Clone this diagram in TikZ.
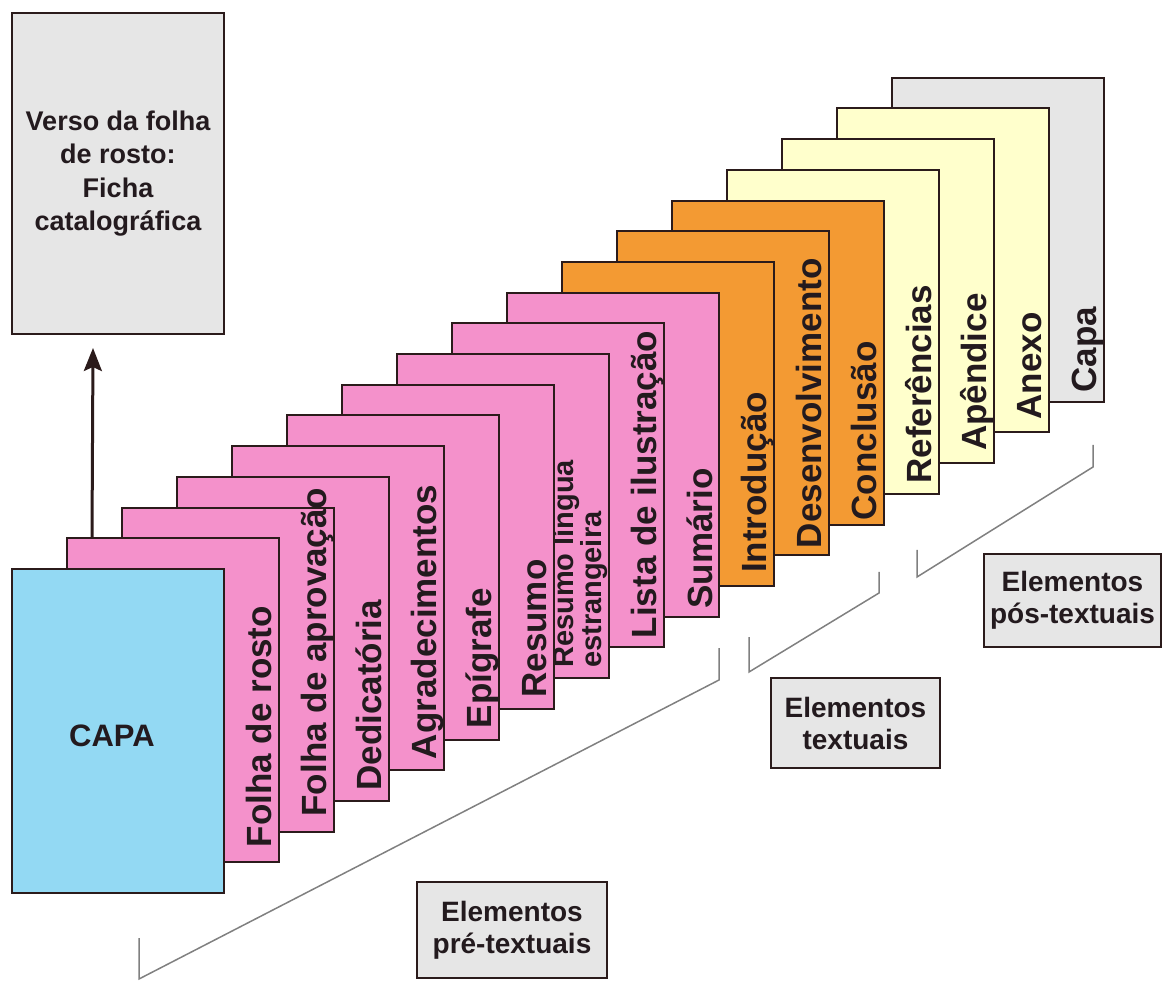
\documentclass[tikz,border=0pt]{standalone}
\usepackage{fontspec}
\setmainfont{Liberation Sans}
\usetikzlibrary{arrows.meta}

\definecolor{azul}{HTML}{93D9F3}
\definecolor{rosa}{HTML}{F491CB}
\definecolor{laranja}{HTML}{F39A33}
\definecolor{creme}{HTML}{FFFFCC}
\definecolor{cinza}{HTML}{E6E6E6}
\definecolor{borda}{HTML}{2B1B1B}
\definecolor{texto}{HTML}{231A1E}

\begin{document}
\begin{tikzpicture}[x=1pt, y=-1pt,
	page/.style = {draw=borda, line width=2pt, minimum width=212pt, minimum height=324pt, inner sep=0pt},
	lbl/.style = {rotate=90, anchor=base west, inner sep=0pt, text=texto, font=\fontsize{35}{40}\selectfont\bfseries},
	caixa/.style = {draw=borda, line width=2pt, fill=cinza, align=center, text=texto, font=\fontsize{28}{32}\selectfont\bfseries},
	chave/.style = {draw=gray, line width=1.5pt},
	seta/.style = {draw=borda, line width=3pt, -{Stealth[length=23pt, width=18pt, inset=4pt]}}]
	\useasboundingbox (0,0) rectangle (1163,981);

	% folha de cima
	\node[caixa, minimum width=212pt, minimum height=321pt, font=\fontsize{27}{33.5}\selectfont\bfseries] (verso) at (118,173.5) {Verso da folha\\de rosto:\\Ficha\\catalográfica};

	% pos-textuais
	\node[page, fill=cinza] (p16) at (998,239.8) {};
	\node[lbl] at ([shift={(-9,-10)}]p16.south east) {Capa};
	\node[page, fill=creme] (p15) at (943,270.5) {};
	\node[lbl] at ([shift={(-9,-14)}]p15.south east) {Anexo};
	\node[page, fill=creme] (p14) at (888,301.2) {};
	\node[lbl] at ([shift={(-9,-13)}]p14.south east) {Apêndice};
	\node[page, fill=creme] (p13) at (833,331.9) {};
	\node[lbl] at ([shift={(-9,-11)}]p13.south east) {Referências};

	% textuais
	\node[page, fill=laranja] (p12) at (778,362.6) {};
	\node[lbl] at ([shift={(-9,-5)}]p12.south east) {Conclusão};
	\node[page, fill=laranja] (p11) at (723,393.3) {};
	\node[lbl] at ([shift={(-9,-8)}]p11.south east) {Desenvolvimento};
	\node[page, fill=laranja] (p10) at (668,424) {};
	\node[lbl] at ([shift={(-9,-14)}]p10.south east) {Introdução};

	% pre-textuais
	\node[page, fill=rosa] (p9) at (613,454.7) {};
	\node[lbl] at ([shift={(-8,-9)}]p9.south east) {Sumário};
	\node[page, fill=rosa] (p8) at (558,485.4) {};
	\node[lbl] at ([shift={(-9,-10)}]p8.south east) {Lista de ilustração};
	\node[page, fill=rosa] (p7) at (503,516.1) {};
	\node[lbl, anchor=south west, align=left, font=\fontsize{29}{21}\selectfont\bfseries] at ([shift={(-2,-11)}]p7.south east) {Resumo língua\\estrangeira};
	\node[page, fill=rosa] (p6) at (448,546.8) {};
	\node[lbl] at ([shift={(-9,-12)}]p6.south east) {Resumo};
	\node[page, fill=rosa] (p5) at (393,577.5) {};
	\node[lbl] at ([shift={(-9,-12)}]p5.south east) {Epígrafe};
	\node[page, fill=rosa] (p4) at (338,608.2) {};
	\node[lbl] at ([shift={(-9,-12)}]p4.south east) {Agradecimentos};
	\node[page, fill=rosa] (p3) at (283,638.9) {};
	\node[lbl] at ([shift={(-9,-11)}]p3.south east) {Dedicatória};
	\node[page, fill=rosa] (p2) at (228,669.6) {};
	\node[lbl] at ([shift={(-9,-16)}]p2.south east) {Folha de aprovação};
	\node[page, fill=rosa] (p1) at (173,700.3) {};
	\node[lbl] at ([shift={(-9,-16)}]p1.south east) {Folha de rosto};
	\node[page, fill=azul] (p0) at (118,731) {};
	\node[text=texto, font=\fontsize{31}{36}\selectfont\bfseries] (capa) at ([shift={(-6,5)}]p0.center) {CAPA};

	\draw[seta] ([xshift=26pt]p1.north west) -- ([xshift=-25pt, yshift=-13pt]verso.south);

	% chaves e rotulos
	\draw[chave] (139,938) -- (139,979) -- (719,680) -- (719,648);
	\draw[chave] (749,637) -- (749,672) -- (879,593) -- (879,572);
	\draw[chave] (917,550) -- (917,577) -- (1093,467) -- (1093,445);
	\node[caixa, minimum width=190pt, minimum height=96pt] (pre) at (512,930) {Elementos\\pré-textuais};
	\node[caixa, minimum width=169pt, minimum height=90pt] (txt) at (855.5,723) {Elementos\\textuais};
	\node[caixa, minimum width=177pt, minimum height=93pt] (pos) at (1072.5,600.5) {Elementos\\pós-textuais};
\end{tikzpicture}
\end{document}
